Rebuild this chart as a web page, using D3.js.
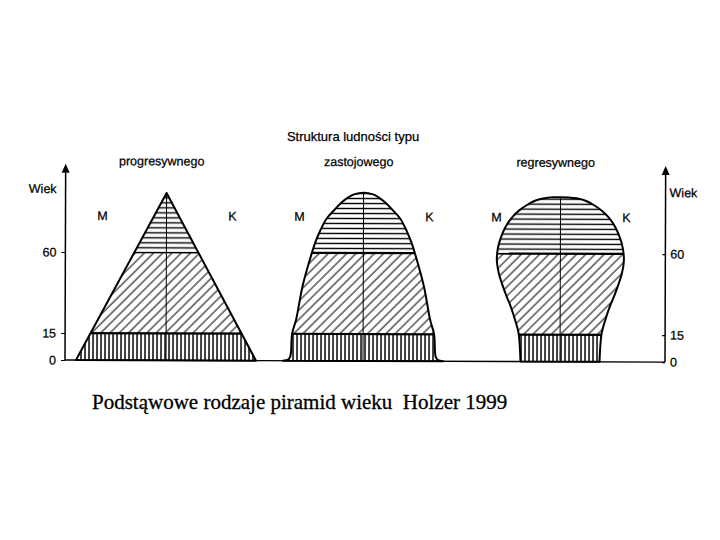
<!DOCTYPE html>
<html>
<head>
<meta charset="utf-8">
<script src="https://cdn.jsdelivr.net/npm/d3@7"></script>
<style>
body{margin:0;background:#fff;}
svg text{font-family:"Liberation Sans",Arial,sans-serif;fill:#000;stroke:#000;stroke-width:0.25px;}
svg text.caption{stroke-width:0.3px;white-space:pre;}
</style>
</head>
<body>
<svg id="chart" width="720" height="540"></svg>
<script>
// pyramid types and labels
var categories = ["progresywnego", "zastojowego", "regresywnego"];
var sexLabels = ["M", "K"];
var ageTicks = [0, 15, 60];
var bandBreaks = [15, 60];

// half width of every pyramid (one side), by age
var progresAges = [0, 93];
var progresHalf = [9.0, 0];
var zastojAges = [0, 0.7, 2, 5, 15, 23, 42, 60, 66, 72, 79, 84, 88, 91, 92.6, 93.5];
var zastojHalf = [8.0, 7.5, 7.3, 7.2, 7.1, 6.7, 6.05, 5.15, 4.8, 4.35, 3.7, 2.9, 2.2, 1.5, 0.95, 0];
var regresAges = [0, 15.7, 23, 30.6, 36, 42, 49, 56, 63, 69, 75, 80, 84, 87, 89.5, 90.8, 91.3, 91.4];
var regresHalf = [3.95, 4.15, 4.5, 4.95, 5.35, 5.75, 6.15, 6.35, 6.25, 5.95, 5.47, 4.86, 4.13, 3.36, 2.5, 1.6, 0.8, 0];

var title = "Struktura ludności typu";
var caption = "Podstąwowe rodzaje piramid wieku  Holzer 1999";
var axisName = "Wiek";

var svg = d3.select("#chart");

var y = d3.scaleLinear().domain([0, 100]).range([360, 180]);
var center = d3.scalePoint().domain(categories).range([166, 560]);
var w = d3.scaleLinear().domain([0, 10]).range([0, 100]);

var shapes = [
    {ages: progresAges, half: progresHalf, curve: d3.curveLinear},
    {ages: zastojAges, half: zastojHalf, curve: d3.curveCatmullRom.alpha(0.5)},
    {ages: regresAges, half: regresHalf, curve: d3.curveCatmullRom.alpha(0.5)}
];

//hatch patterns
var defs = svg.append("defs");
var ph = defs.append("pattern").attr("id", "hatch-h").attr("patternUnits", "userSpaceOnUse")
    .attr("width", 10).attr("height", 5);
ph.append("line").attr("x1", 0).attr("x2", 10).attr("y1", 2.5).attr("y2", 2.5)
    .attr("stroke", "#000").attr("stroke-width", 1.4);
var pd = defs.append("pattern").attr("id", "hatch-d").attr("patternUnits", "userSpaceOnUse")
    .attr("width", 6.5).attr("height", 10).attr("patternTransform", "rotate(45)");
pd.append("line").attr("x1", 1).attr("x2", 1).attr("y1", 0).attr("y2", 10)
    .attr("stroke", "#000").attr("stroke-width", 1);
var pv = defs.append("pattern").attr("id", "hatch-v").attr("patternUnits", "userSpaceOnUse")
    .attr("width", 4).attr("height", 10);
pv.append("line").attr("x1", 1).attr("x2", 1).attr("y1", 0).attr("y2", 10)
    .attr("stroke", "#000").attr("stroke-width", 1.5);
var bandFills = ["url(#hatch-v)", "url(#hatch-d)", "url(#hatch-h)"];

// the scan is slightly tilted
var g = svg.append("g").attr("transform", "rotate(0.2,65,360)");

function outline(s, cx){
    var pts = [];
    for(var i=0; i<s.ages.length; i++) pts.push([-s.half[i], s.ages[i]]);
    for(var j=s.ages.length-2; j>=0; j--) pts.push([s.half[j], s.ages[j]]);
    var line = d3.line()
        .x(function(d){ return cx + (d[0] < 0 ? -w(-d[0]) : w(d[0])); })
        .y(function(d){ return y(d[1]); })
        .curve(s.curve);
    return line(pts) + "Z";
}

categories.forEach(function(cat, i){
    var cx = center(cat);
    var d = outline(shapes[i], cx);
    var top = shapes[i].ages[shapes[i].ages.length-1];

    defs.append("clipPath").attr("id", "clip" + i).append("path").attr("d", d);

    var inner = g.append("g").attr("clip-path", "url(#clip" + i + ")");
    var edges = [0].concat(bandBreaks).concat([110]);
    for(var b=0; b<3; b++){
        inner.append("rect")
            .attr("x", cx - 120).attr("width", 240)
            .attr("y", y(edges[b+1])).attr("height", y(edges[b]) - y(edges[b+1]))
            .attr("fill", "#fff");
        inner.append("rect")
            .attr("x", cx - 120).attr("width", 240)
            .attr("y", y(edges[b+1])).attr("height", y(edges[b]) - y(edges[b+1]))
            .attr("fill", bandFills[b]);
    }
    bandBreaks.forEach(function(a){
        inner.append("line").attr("x1", cx - 120).attr("x2", cx + 120)
            .attr("y1", y(a)).attr("y2", y(a))
            .attr("stroke", "#000").attr("stroke-width", 2.2);
    });
    inner.append("line").attr("x1", cx).attr("x2", cx)
        .attr("y1", y(0)).attr("y2", y(top))
        .attr("stroke", "#000").attr("stroke-width", 1);

    g.append("path").attr("d", d).attr("fill", "none")
        .attr("stroke", "#000").attr("stroke-width", 2).attr("stroke-linejoin", "round");

    //M and K
    g.append("text").attr("x", cx - 64).attr("y", 220).attr("text-anchor", "middle")
        .style("font-size", "12.5px").text(sexLabels[0]);
    g.append("text").attr("x", cx + 66).attr("y", 220).attr("text-anchor", "middle")
        .style("font-size", "12.5px").text(sexLabels[1]);

    g.append("text").attr("x", cx - 5).attr("y", 165).attr("text-anchor", "middle")
        .style("font-size", "12.5px").text(cat);
});

// baseline
g.append("line").attr("x1", 65).attr("x2", 665).attr("y1", y(0)).attr("y2", y(0))
    .attr("stroke", "#000").attr("stroke-width", 1.4);

// axes on both sides
var leftAxis = d3.axisLeft(y).tickValues(ageTicks).tickSize(4).tickPadding(5);
var rightAxis = d3.axisRight(y).tickValues(ageTicks).tickSize(-3).tickPadding(5);
[[65, leftAxis], [665, rightAxis]].forEach(function(a){
    var ax = g.append("g").attr("transform", "translate(" + a[0] + ",0)").call(a[1]);
    ax.select(".domain").remove();
    ax.selectAll("text").style("font-size", "12.5px").style("font-family", "Liberation Sans, Arial, sans-serif");
    ax.selectAll(".tick line").attr("stroke-width", 1.2);
    ax.append("line").attr("x1", 0).attr("x2", 0).attr("y1", y(0)).attr("y2", y(104))
        .attr("stroke", "#000").attr("stroke-width", 1.5);
    ax.append("path")
        .attr("d", "M0," + y(109) + "L-4," + (y(109) + 9) + "L4," + (y(109) + 9) + "Z")
        .attr("fill", "#000");
});
g.append("text").attr("x", 56).attr("y", 193).attr("text-anchor", "end")
    .style("font-size", "12.5px").text(axisName);
g.append("text").attr("x", 669).attr("y", 195)
    .style("font-size", "12.5px").text(axisName);

svg.append("text").attr("x", 353).attr("y", 141).attr("text-anchor", "middle")
    .style("font-size", "13px").text(title);

svg.append("text").attr("class", "caption").attr("x", 92).attr("y", 409)
    .style("font-family", "Liberation Serif, Times New Roman, serif")
    .style("font-size", "21px").text(caption);
</script>
</body>
</html>
